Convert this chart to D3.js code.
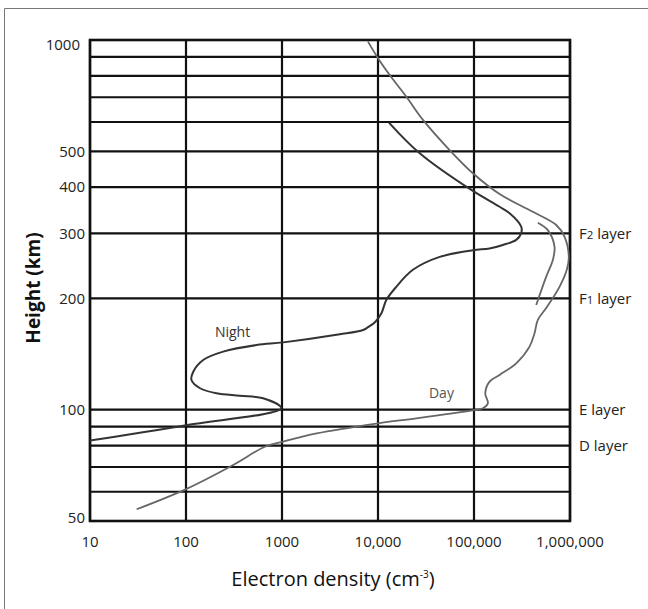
<!DOCTYPE html>
<html>
<head>
<meta charset="utf-8">
<script src="https://cdn.jsdelivr.net/npm/d3@7"></script>
<style>
  html, body { margin: 0; padding: 0; background: #fff; }
  svg { display: block; }
  text { font-family: "Open Sans", "DejaVu Sans", sans-serif; }
</style>
</head>
<body>
<svg id="chart" width="648" height="609"></svg>
<script>
// Electron density profile of the ionosphere, day and night
const densityTicks = [10, 100, 1000, 10000, 100000, 1000000];
const densityTickLabels = ["10", "100", "1000", "10,000", "100,000", "1,000,000"];
const heightGrid = [50, 60, 70, 80, 90, 100, 200, 300, 400, 500, 600, 700, 800, 900, 1000];
const heightTickValues = [50, 100, 200, 300, 400, 500, 1000];

const layerNames = [["F", "2", " layer"], ["F", "1", " layer"], ["E", "", " layer"], ["D", "", " layer"]];
const layerHeights = [300, 200, 100, 80];

// Night profile (cm^-3, km)
const nightDensity = [10, 100, 980, 636, 364, 208, 140, 114, 119, 151, 244, 543, 1030, 4000, 7000, 7810,
  9350, 10850, 12200, 15500, 23100, 43900, 97400, 145000, 200000, 275000, 310000, 310000, 235000,
  185000, 93800, 27200, 13000];
const nightHeight = [82.5, 90.8, 101, 107.4, 109.1, 110.8, 114.3, 120.3, 126.7, 136.3, 143.6, 149.6, 152.1,
  159.9, 164.3, 166.9, 172.7, 182.3, 198, 215, 239, 259, 270, 273, 279, 288, 300, 313, 340,
  354, 393, 494, 598];

// Day profile (cm^-3, km)
const dayDensity = [30.6, 100, 310, 662, 1010, 2290, 10000, 25100, 99000, 124000, 139500, 131000, 145300,
  184700, 275400, 378900, 427200, 462400, 570000, 777700, 926000, 971600, 876500, 718600, 410200,
  184700, 97400, 55700, 29400, 19750, 13240, 10000, 7870];
const dayHeight = [53.8, 61, 70.9, 79.4, 81.9, 86.3, 91.9, 94.8, 99.8, 100.9, 104.1, 110.8, 119.1,
  124.2, 133.5, 148.1, 161, 174.9, 189, 215, 239, 259, 294, 316, 343,
  383, 436, 504, 608, 702, 804, 893, 990];

// Second daytime branch through the F1/F2 region
const dayBranchDensity = [462400, 587500, 689900, 662300, 565300, 444900];
const dayBranchHeight = [320.5, 306, 276, 254, 229, 192];

const curveLabels = ["Night", "Day"];
const curveLabelDensity = [200, 33950];
const curveLabelHeight = [157.3, 107.6];

const svg = d3.select("#chart");
const plotLeft = 90, plotRight = 570, plotTop = 40, plotBottom = 521;

const x = d3.scaleLog().domain([10, 1000000]).range([plotLeft, plotRight]);
const y = d3.scaleLog().domain([50, 1000]).range([plotBottom, plotTop]);

// page frame
svg.append("path")
  .attr("d", "M4.5,609 L4.5,8.5 L648,8.5")
  .attr("fill", "none").attr("stroke", "#777").attr("stroke-width", 1);

// grid
const grid = svg.append("g").attr("stroke", "#111").attr("stroke-width", 2.2);
grid.selectAll("line.h").data(heightGrid).join("line").attr("class", "h")
  .attr("x1", plotLeft).attr("x2", plotRight)
  .attr("y1", d => y(d)).attr("y2", d => y(d));
grid.selectAll("line.v").data(densityTicks).join("line").attr("class", "v")
  .attr("x1", d => x(d)).attr("x2", d => x(d))
  .attr("y1", plotTop).attr("y2", plotBottom);
svg.append("rect").attr("x", plotLeft).attr("y", plotTop)
  .attr("width", plotRight - plotLeft).attr("height", plotBottom - plotTop)
  .attr("fill", "none").attr("stroke", "#111").attr("stroke-width", 2.6);

// x tick labels
svg.append("g").selectAll("text").data(densityTicks).join("text")
  .attr("x", d => x(d)).attr("y", 547)
  .attr("text-anchor", "middle").attr("font-size", 15).attr("fill", "#222")
  .text((d, i) => densityTickLabels[i]);

// y tick labels
svg.append("g").selectAll("text").data(heightTickValues).join("text")
  .attr("x", d => d === 1000 ? 80 : 85)
  .attr("y", d => y(d) + (d === 1000 ? 4.5 : d === 50 ? -3 : 0))
  .attr("dy", "0.35em")
  .attr("text-anchor", "end").attr("font-size", 15).attr("fill", "#222")
  .text(d => d);

// axis titles
svg.append("text").attr("x", 333).attr("y", 586)
  .attr("text-anchor", "middle").attr("font-size", 20).attr("fill", "#111")
  .call(t => {
    t.append("tspan").text("Electron density (cm");
    t.append("tspan").attr("font-size", 10).attr("dy", -8).text("-3");
    t.append("tspan").attr("dy", 8).text(")");
  });
svg.append("text")
  .attr("transform", "translate(40,288) rotate(-90)")
  .attr("text-anchor", "middle").attr("font-size", 19).attr("font-weight", "bold").attr("fill", "#111")
  .text("Height (km)");

// layer labels
svg.append("g").selectAll("text").data(layerHeights).join("text")
  .attr("x", 579).attr("y", d => y(d)).attr("dy", "0.35em")
  .attr("font-size", 15).attr("fill", "#222")
  .each(function (d, i) {
    const t = d3.select(this), parts = layerNames[i];
    t.append("tspan").text(parts[0]);
    if (parts[1]) t.append("tspan").attr("font-size", 11.5).text(parts[1]);
    t.append("tspan").text(parts[2]);
  });

// profiles
const line = d3.line().curve(d3.curveCatmullRom.alpha(0.5));
const toPoints = (dens, hts) => dens.map((d, i) => [x(d), y(hts[i])]);

svg.append("path").attr("d", line(toPoints(dayDensity, dayHeight)))
  .attr("fill", "none").attr("stroke", "#666").attr("stroke-width", 1.8);
svg.append("path").attr("d", line(toPoints(dayBranchDensity, dayBranchHeight)))
  .attr("fill", "none").attr("stroke", "#666").attr("stroke-width", 1.8);
svg.append("path").attr("d", line(toPoints(nightDensity, nightHeight)))
  .attr("fill", "none").attr("stroke", "#333").attr("stroke-width", 2);

// curve labels
svg.append("g").selectAll("text").data(curveLabels).join("text")
  .attr("x", (d, i) => x(curveLabelDensity[i])).attr("y", (d, i) => y(curveLabelHeight[i]))
  .attr("font-size", 14).attr("fill", (d, i) => i ? "#555" : "#333")
  .text(d => d);
</script>
</body>
</html>
